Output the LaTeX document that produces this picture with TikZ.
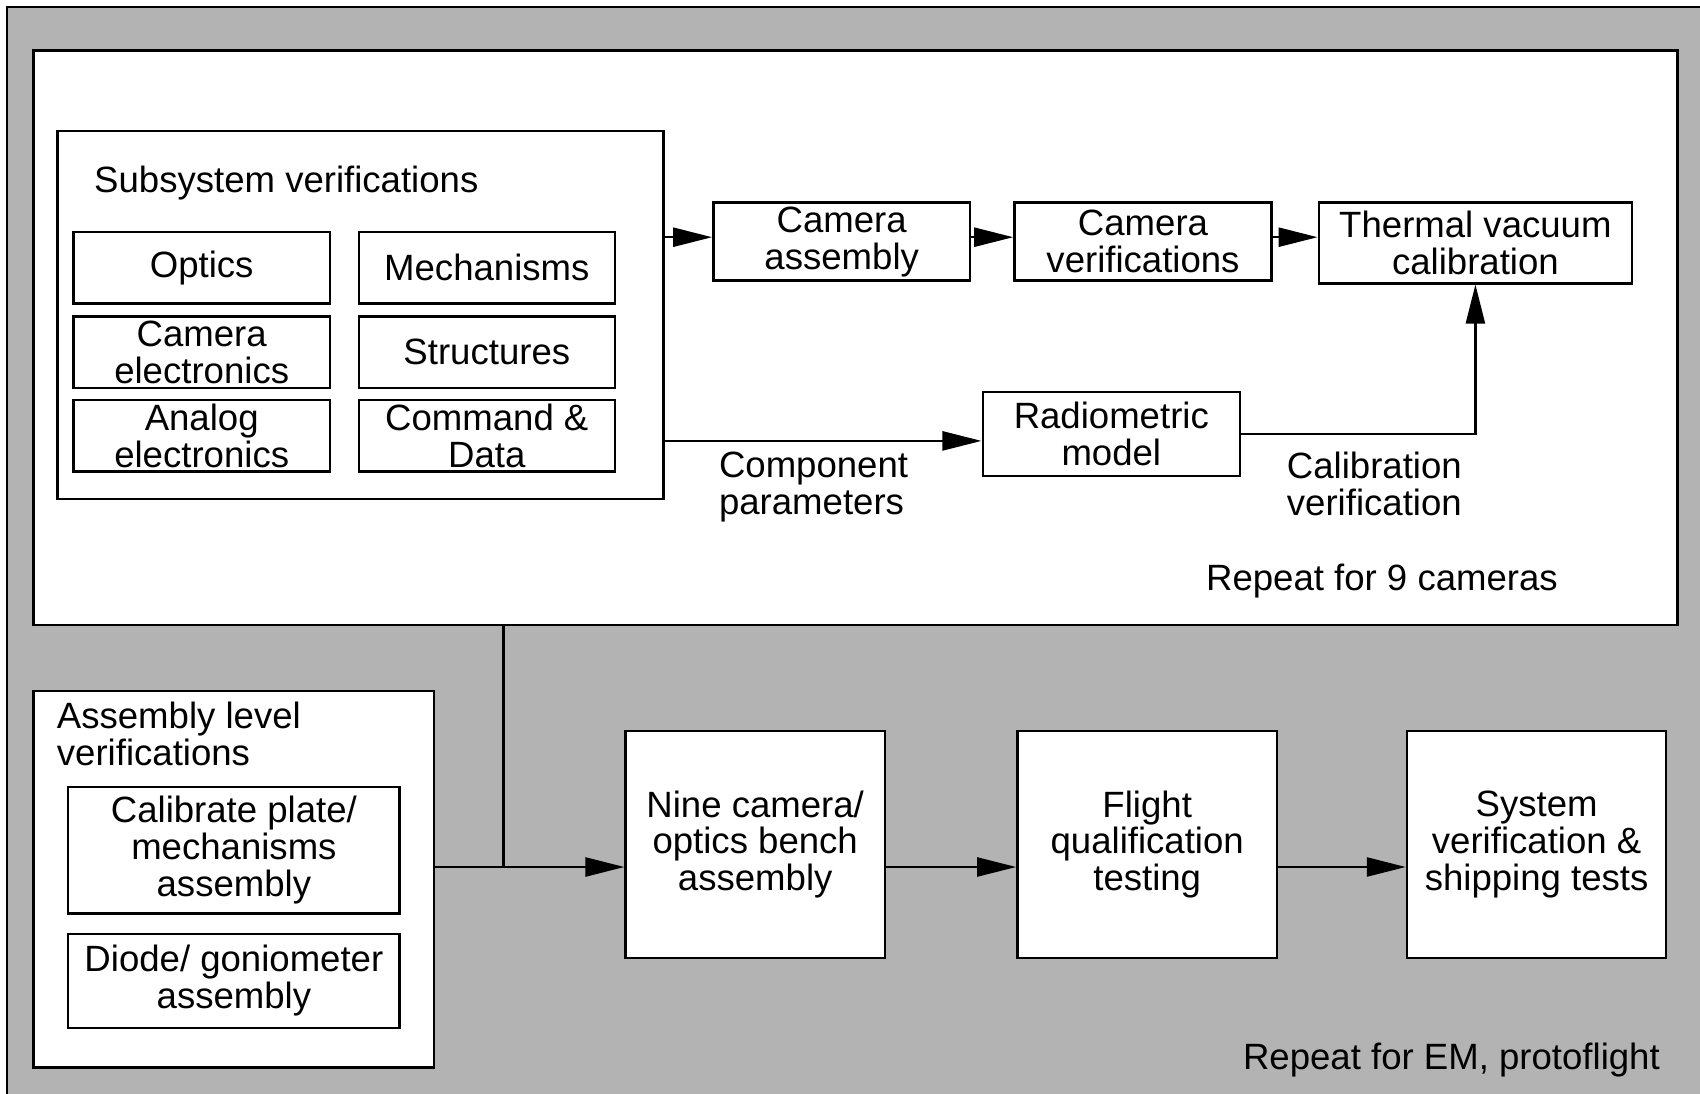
\documentclass[tikz,border=0pt]{standalone}
\usepackage{fontspec}
\setmainfont{Liberation Sans}
\usetikzlibrary{arrows.meta}
\definecolor{framegray}{RGB}{179,179,179}

\begin{document}
\begin{tikzpicture}[x=0.01cm,y=-0.01cm,line width=0.7pt,
  font=\fontsize{10.4}{10.5}\selectfont,
  box/.style={draw,fill=white,inner sep=0pt,align=center},
  sub/.style={box,minimum width=2.56cm,minimum height=0.715cm},
  arr/.style={-{Triangle[length=3.9mm,width=1.9mm]}}]
\useasboundingbox (0,0) rectangle (1700,1094);
\fill[framegray] (7,7) rectangle (1700,1094);
\draw (7,1094) -- (7,7) -- (1700,7);
\node[box,minimum width=16.43cm,minimum height=5.74cm] (camloop) at (855.3,337.8) {};
\node[box,minimum width=6.06cm,minimum height=3.68cm] (subsys) at (360.5,314.9) {};
\node[anchor=base west,inner sep=0pt] (subsyslbl) at (93,192.5) {Subsystem verifications};
\node[sub] (optics) at (201.7,267.8) {Optics};
\node[sub] (mech) at (486.8,267.8) {Mechanisms};
\node[sub] (camelec) at (201.7,352.3) {Camera\\electronics};
\node[sub] (struct) at (486.8,352.3) {Structures};
\node[sub] (analog) at (201.7,435.8) {Analog\\electronics};
\node[sub] (cmddata) at (486.8,435.8) {Command \&\\Data};
\node[box,minimum width=2.566cm,minimum height=0.78cm] (camasm) at (841.7,241.7) {Camera\\assembly};
\node[box,minimum width=2.57cm,minimum height=0.78cm] (camver) at (1143,241.7) {Camera\\verifications};
\node[box,minimum width=3.13cm,minimum height=0.806cm] (tvac) at (1475.4,243) {Thermal vacuum\\calibration};
\node[box,minimum width=2.57cm,minimum height=0.837cm] (radmod) at (1111.3,433.9) {Radiometric\\model};
\node[anchor=north west,inner sep=0pt,align=left] (comppar) at (717.8,451) {Component\\parameters};
\node[anchor=north west,inner sep=0pt,align=left] (calver) at (1285.7,451) {Calibration\\verification};
\node[anchor=base east,inner sep=0pt] (rep9) at (1559,590) {Repeat for 9 cameras};
\draw[arr] ([yshift=0.045cm]subsys.east |- camasm.west) -- ([yshift=0.045cm]camasm.west);
\draw[arr] ([yshift=0.045cm]camasm.east) -- ([yshift=0.045cm]camver.west);
\draw[arr] ([yshift=0.045cm]camver.east) -- ([yshift=0.045cm]camver.east -| tvac.west);
\draw[arr] ([yshift=-0.07cm]subsys.east |- radmod.west) -- ([yshift=-0.07cm]radmod.west);
\draw[arr] (radmod.east) -| (tvac.south);
\node[box,minimum width=4.004cm,minimum height=3.763cm] (asmlvl) at (233.8,879.2) {};
\node[anchor=north west,inner sep=0pt,align=left] (asmlbl) at (55.7,701) {Assembly level\\verifications};
\node[box,minimum width=3.312cm,minimum height=1.263cm] (calplate) at (233.9,850.2) {Calibrate plate/\\mechanisms\\assembly};
\node[box,minimum width=3.312cm,minimum height=0.943cm] (diode) at (233.9,980.9) {Diode/ goniometer\\assembly};
\node[box,minimum width=2.59cm,minimum height=2.27cm] (ninecam) at (755.2,844.5) {Nine camera/\\optics bench\\assembly};
\node[box,minimum width=2.595cm,minimum height=2.27cm] (flight) at (1147.2,844.5) {Flight\\qualification\\testing};
\node[box,minimum width=2.59cm,minimum height=2.27cm] (system) at (1536.6,844.5) {System\\verification \&\\shipping tests};
\node[anchor=base east,inner sep=0pt] (repem) at (1661,1069) {Repeat for EM, protoflight};
\coordinate (junc) at (503.4,867);
\draw (camloop.south -| junc) -- (junc);
\draw[arr] (asmlvl.east |- junc) -- (ninecam.west |- junc);
\draw[arr] (ninecam.east |- junc) -- (flight.west |- junc);
\draw[arr] (flight.east |- junc) -- (system.west |- junc);
\end{tikzpicture}
\end{document}
